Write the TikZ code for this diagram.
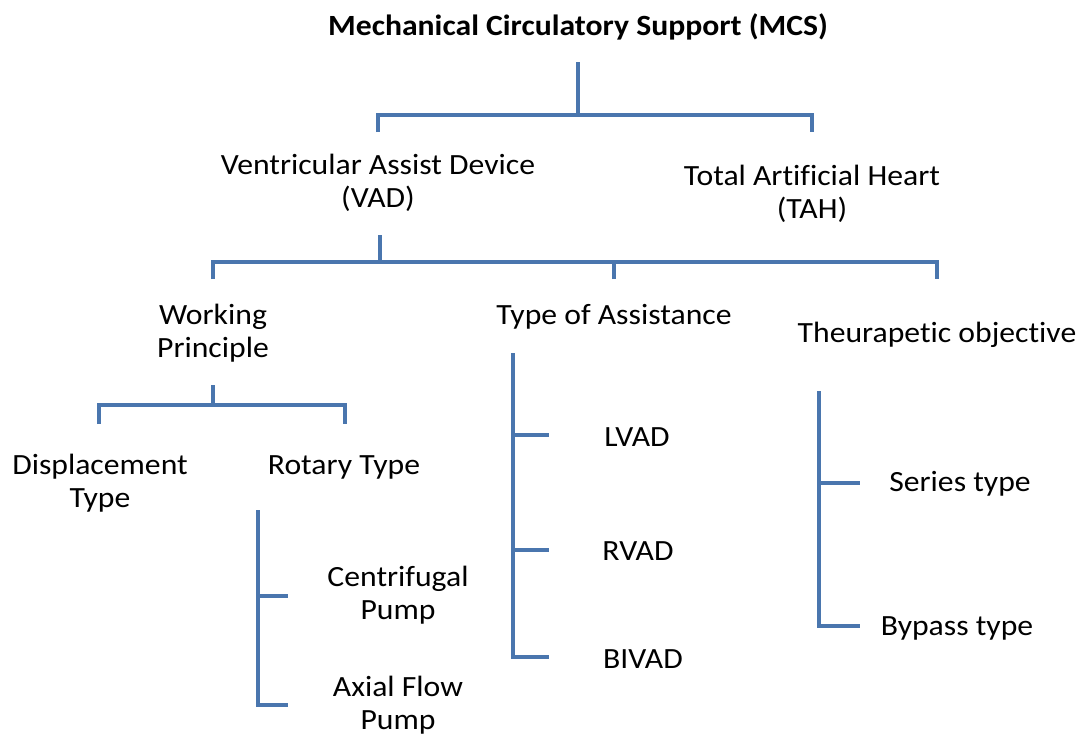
\documentclass[tikz,border=0pt]{standalone}
\usepackage{fontspec}
\setmainfont{Carlito}[FakeStretch=1.08, Ligatures=NoCommon]
\usetikzlibrary{positioning}
\definecolor{branchblue}{HTML}{4A76AE}

\begin{document}
\begin{tikzpicture}[x=0.02cm, y=-0.02cm,
  label/.style={font=\fontsize{16.7}{18.7}\selectfont, align=center, inner sep=0pt},
  heading/.style={label, font=\fontsize{16.7}{18.7}\selectfont\bfseries},
  branch/.style={draw=branchblue, line width=2.3pt, line join=miter}]

  \useasboundingbox (0,0) rectangle (1088,735);

  % Levels of the tree
  \node[heading] (mcs) at (578,27) {Mechanical Circulatory Support (MCS)};
  \node[label] (vad) at (378,183) {Ventricular Assist Device\\(VAD)};
  \node[label] (tah) at (812,194) {Total Artificial Heart\\(TAH)};
  \node[label] (wp) at (213,333) {Working\\Principle};
  \node[label] (toa) at (614,317) {Type of Assistance};
  \node[label] (theo) at (937,335) {Theurapetic objective};
  \node[label] (disp) at (100,483) {Displacement\\Type};
  \node[label] (rot) at (344,467) {Rotary Type};
  \node[label] (cent) at (398,595) {Centrifugal\\Pump};
  \node[label] (axial) at (398,705) {Axial Flow\\Pump};
  \node[label] (lvad) at (637,437) {LVAD};
  \node[label] (rvad) at (638,551) {RVAD};
  \node[label] (bivad) at (643,659) {BIVAD};
  \node[label] (series) at (960,484) {Series type};
  \node[label] (bypass) at (957,628) {Bypass type};

  % Joints
  \coordinate (mcs-root) at (578,62);
  \coordinate (mcs-split) at (578,115);
  \coordinate (vad-end) at (378,132);
  \coordinate (tah-end) at (812,132);
  \coordinate (vad-root) at (380,235);
  \coordinate (vad-split) at (380,262);
  \coordinate (wp-end) at (213,279);
  \coordinate (toa-end) at (614,279);
  \coordinate (theo-end) at (937,279);
  \coordinate (wp-root) at (213,385);
  \coordinate (wp-split) at (213,405);
  \coordinate (disp-end) at (99,424);
  \coordinate (rot-end) at (345,424);
  \coordinate (rot-root) at (258,510);
  \coordinate (cent-tick) at (288,596);
  \coordinate (axial-tick) at (288,705);
  \coordinate (toa-root) at (513,353);
  \coordinate (lvad-tick) at (549,435);
  \coordinate (rvad-tick) at (549,550);
  \coordinate (bivad-tick) at (549,657);
  \coordinate (theo-root) at (819,391);
  \coordinate (series-tick) at (860,483);
  \coordinate (bypass-tick) at (860,626);

  % MCS branch
  \draw[branch] (mcs-root) -- (mcs-split);
  \draw[branch] (vad-end) |- (mcs-split) -| (tah-end);

  % VAD branch
  \draw[branch] (vad-root) -- (vad-split);
  \draw[branch] (wp-end) |- (vad-split) -| (theo-end);
  \draw[branch] (toa-end) -- (toa-end |- vad-split);

  % Working principle
  \draw[branch] (wp-root) -- (wp-split);
  \draw[branch] (disp-end) |- (wp-split) -| (rot-end);

  % Rotary pumps
  \draw[branch] (rot-root) |- (axial-tick);
  \draw[branch] (rot-root |- cent-tick) -- (cent-tick);

  % Type of assistance
  \draw[branch] (toa-root) |- (bivad-tick);
  \draw[branch] (toa-root |- lvad-tick) -- (lvad-tick);
  \draw[branch] (toa-root |- rvad-tick) -- (rvad-tick);

  % Therapeutic objective
  \draw[branch] (theo-root) |- (bypass-tick);
  \draw[branch] (theo-root |- series-tick) -- (series-tick);
\end{tikzpicture}
\end{document}
